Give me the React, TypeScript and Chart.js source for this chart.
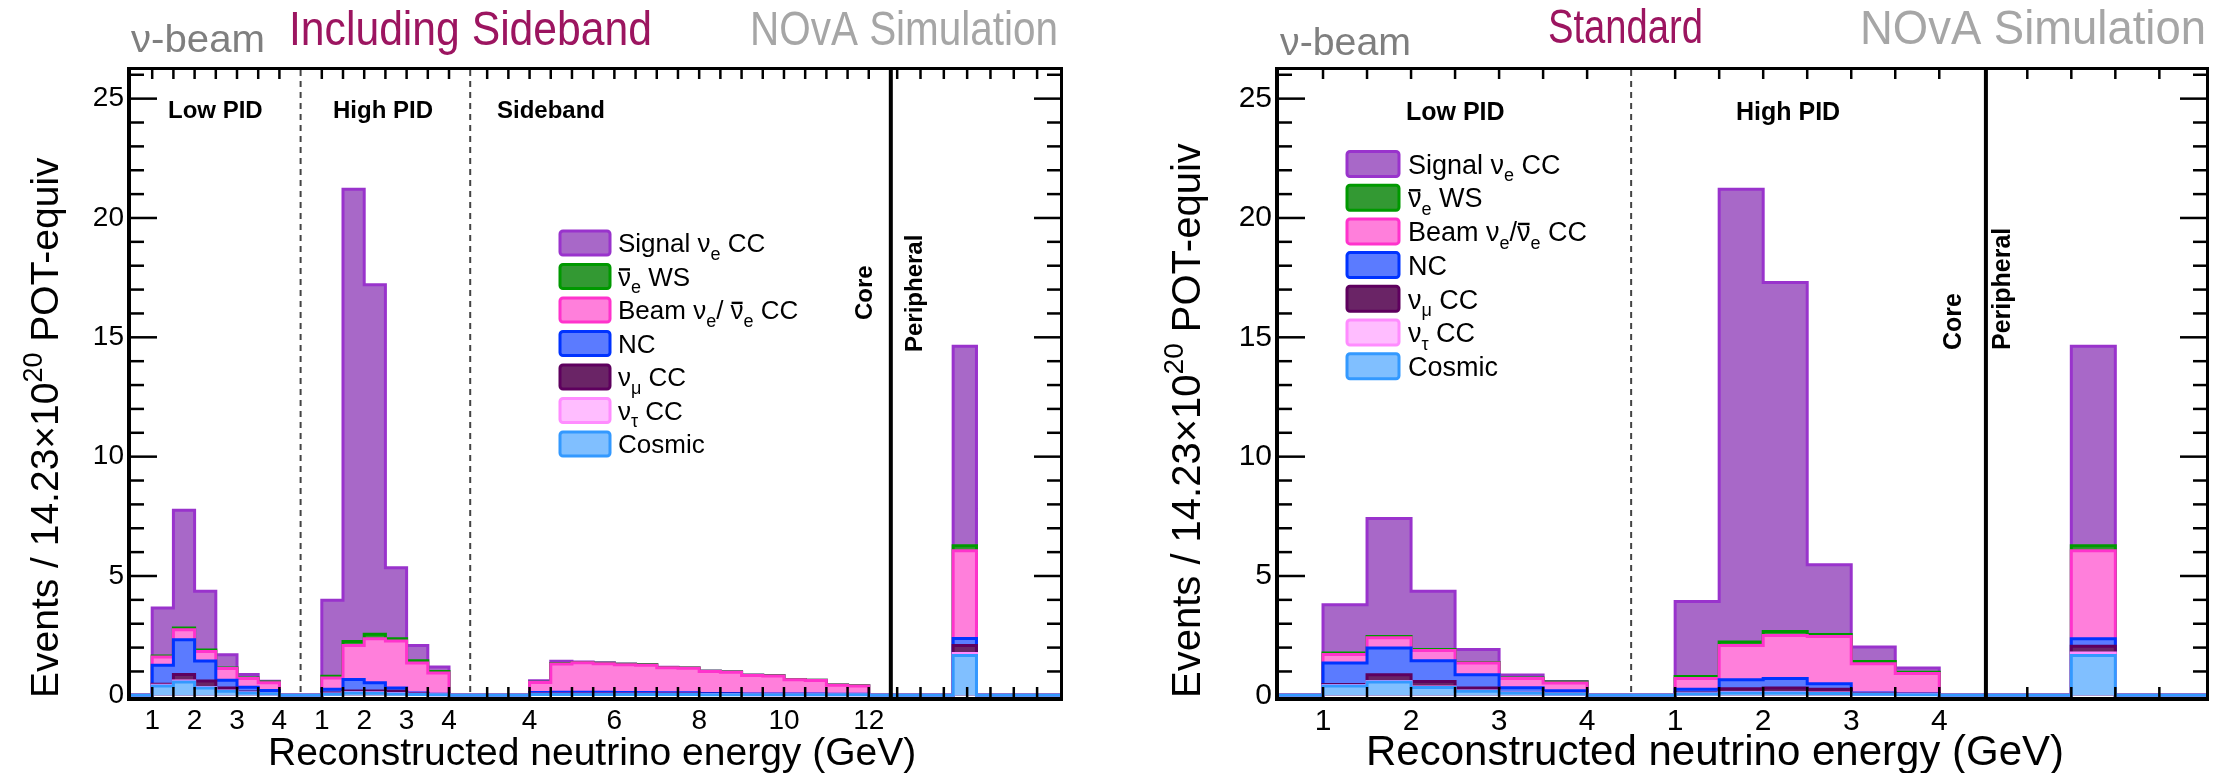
import React, { useEffect, useRef } from "react";
import { Chart, registerables } from "chart.js";

Chart.register(...registerables);

// ---------------- DATA ----------------
// Stack order (bottom -> top)
const stackNames = ["Cosmic", "ντ CC", "νμ CC", "NC", "Beam νe/ν̄e CC", "ν̄e WS", "Signal νe CC"];

const pidBinEdgesGeV = [1.0, 1.5, 2.0, 2.5, 3.0, 3.5, 4.0];
const sidebandBinEdgesGeV = [4.0, 4.5, 5.0, 5.5, 6.0, 6.5, 7.0, 7.5, 8.0, 8.5, 9.0, 9.5, 10.0, 10.5, 11.0, 11.5, 12.0];
const peripheralBinEdges = [0, 1];

const pidTickLabelsGeV = [1, 2, 3, 4];
const sidebandTickLabelsGeV = [4, 6, 8, 10, 12];
const yTickLabels = [0, 5, 10, 15, 20, 25];

// Left panel: "Including Sideband" (rows follow stackNames)
const leftLowPID = [
  [0.39, 0.56, 0.31, 0.17, 0.10, 0.07],
  [0.03, 0.04, 0.02, 0.01, 0.01, 0.00],
  [0.04, 0.27, 0.27, 0.13, 0.03, 0.01],
  [0.80, 1.46, 0.84, 0.32, 0.20, 0.12],
  [0.35, 0.42, 0.40, 0.49, 0.36, 0.33],
  [0.04, 0.07, 0.06, 0.03, 0.03, 0.03],
  [2.01, 4.93, 2.46, 0.55, 0.14, 0.03],
];
const leftHighPID = [
  [0.05, 0.10, 0.09, 0.06, 0.03, 0.02],
  [0.01, 0.02, 0.02, 0.02, 0.01, 0.00],
  [0.04, 0.06, 0.07, 0.09, 0.03, 0.01],
  [0.15, 0.48, 0.35, 0.14, 0.03, 0.01],
  [0.48, 1.43, 1.84, 1.97, 1.25, 0.90],
  [0.07, 0.17, 0.19, 0.09, 0.10, 0.06],
  [3.18, 18.94, 14.64, 2.98, 0.64, 0.19],
];
const leftSideband = [
  [0.03, 0.03, 0.03, 0.03, 0.03, 0.03, 0.03, 0.03, 0.02, 0.02, 0.02, 0.02, 0.02, 0.02, 0.02, 0.02],
  [0.01, 0.01, 0.01, 0.01, 0.01, 0.01, 0.01, 0.01, 0.01, 0.01, 0.00, 0.00, 0.00, 0.00, 0.00, 0.00],
  [0.02, 0.02, 0.02, 0.02, 0.02, 0.02, 0.02, 0.02, 0.01, 0.01, 0.01, 0.01, 0.01, 0.01, 0.01, 0.01],
  [0.06, 0.07, 0.07, 0.07, 0.06, 0.06, 0.05, 0.05, 0.04, 0.04, 0.03, 0.03, 0.03, 0.03, 0.02, 0.02],
  [0.42, 1.18, 1.23, 1.19, 1.16, 1.14, 1.05, 1.02, 0.92, 0.89, 0.77, 0.75, 0.59, 0.56, 0.37, 0.34],
  [0.01, 0.02, 0.02, 0.02, 0.02, 0.02, 0.01, 0.01, 0.01, 0.01, 0.01, 0.01, 0.01, 0.01, 0.01, 0.01],
  [0.06, 0.10, 0.02, 0.02, 0.01, 0.01, 0.01, 0.01, 0.01, 0.01, 0.01, 0.01, 0.00, 0.00, 0.00, 0.00],
];
const leftPeripheral = [[1.67], [0.08], [0.34], [0.29], [3.68], [0.21], [8.36]];

// Right panel: "Standard"
const rightLowPID = [
  [0.39, 0.56, 0.33, 0.17, 0.10, 0.06],
  [0.02, 0.02, 0.02, 0.01, 0.01, 0.00],
  [0.04, 0.28, 0.23, 0.13, 0.01, 0.01],
  [0.90, 1.12, 0.87, 0.55, 0.20, 0.12],
  [0.36, 0.43, 0.43, 0.49, 0.39, 0.33],
  [0.06, 0.06, 0.04, 0.03, 0.02, 0.04],
  [2.02, 4.94, 2.44, 0.54, 0.12, 0.02],
];
const rightHighPID = [
  [0.06, 0.10, 0.10, 0.08, 0.04, 0.02],
  [0.01, 0.02, 0.02, 0.02, 0.01, 0.01],
  [0.03, 0.16, 0.19, 0.15, 0.02, 0.01],
  [0.15, 0.37, 0.39, 0.24, 0.03, 0.02],
  [0.45, 1.44, 1.81, 1.98, 1.22, 0.85],
  [0.09, 0.14, 0.16, 0.08, 0.10, 0.06],
  [3.14, 18.97, 14.63, 2.92, 0.60, 0.17],
];
const rightPeripheral = [[1.67], [0.10], [0.29], [0.31], [3.69], [0.21], [8.36]];

// ---------------- STYLE ----------------
const FONT = "'Liberation Sans', Arial, Helvetica, sans-serif";
const fillColors = ["#80bfff", "#ffbdff", "#6a2466", "#5b7bff", "#ff7fdb", "#339933", "#a868c8"];
const lineColors = ["#3399ff", "#ff8cff", "#5e005e", "#0033ff", "#ff33cc", "#009900", "#9933cc"];

type Seg = { t: string; sub?: boolean; bar?: boolean };
const legendSignal: Seg[] = [{ t: "Signal ν" }, { t: "e", sub: true }, { t: " CC" }];
const legendWS: Seg[] = [{ t: "ν", bar: true }, { t: "e", sub: true }, { t: " WS" }];
const legendBeamLeft: Seg[] = [{ t: "Beam ν" }, { t: "e", sub: true }, { t: "/ " }, { t: "ν", bar: true }, { t: "e", sub: true }, { t: " CC" }];
const legendBeamRight: Seg[] = [{ t: "Beam ν" }, { t: "e", sub: true }, { t: "/" }, { t: "ν", bar: true }, { t: "e", sub: true }, { t: " CC" }];
const legendNC: Seg[] = [{ t: "NC" }];
const legendNumu: Seg[] = [{ t: "ν" }, { t: "μ", sub: true }, { t: " CC" }];
const legendNutau: Seg[] = [{ t: "ν" }, { t: "τ", sub: true }, { t: " CC" }];
const legendCosmic: Seg[] = [{ t: "Cosmic" }];

type Section = { from: number; to: number; edges: number[]; values: number[][]; offset: number; scale: number };

const range = (a: number, b: number, s: number) => {
  const out: number[] = [];
  for (let v = a; v <= b + 1e-9; v += s) out.push(Math.round(v * 1000) / 1000);
  return out;
};

const leftPanel = {
  canvasLeft: 0,
  width: 1110,
  padRight: 50,
  yAxisWidth: 131,
  axisMax: 21.91,
  tickFont: 28,
  sections: [
    { from: 0, to: 4, edges: pidBinEdgesGeV, values: leftLowPID, offset: -0.5, scale: 1 },
    { from: 4, to: 8, edges: pidBinEdgesGeV, values: leftHighPID, offset: 3.5, scale: 1 },
    { from: 8, to: 17.92, edges: sidebandBinEdgesGeV, values: leftSideband, offset: 5.4, scale: 1 },
    { from: 17.92, to: 21.91, edges: peripheralBinEdges, values: leftPeripheral, offset: 19.39, scale: 0.55 },
  ] as Section[],
  labels: [
    ...pidTickLabelsGeV.map((g) => ({ at: g - 0.5, text: String(g) })),
    ...pidTickLabelsGeV.map((g) => ({ at: g + 3.5, text: String(g) })),
    ...sidebandTickLabelsGeV.map((g) => ({ at: g + 5.4, text: String(g) })),
  ],
  tickMarks: [
    ...pidBinEdgesGeV.map((g) => g - 0.5),
    ...pidBinEdgesGeV.map((g) => g + 3.5),
    ...range(3.0, 12.0, 0.5).map((g) => g + 5.4),
    ...range(0, 6, 1).map((k) => 18.07 + 0.55 * k),
  ],
  separators: [
    { at: 4, dashed: true },
    { at: 8, dashed: true },
    { at: 17.92, dashed: false },
  ],
  titles: [
    { text: "ν-beam", x: 131, y: 52, size: 38, width: 134, color: "#7f7f7f", align: "left" },
    { text: "Including Sideband", x: 289, y: 45, size: 48, width: 363, color: "#9c1560", align: "left" },
    { text: "NOvA Simulation", x: 1058, y: 45, size: 48, width: 308, color: "#a6a6a6", align: "right" },
  ],
  sectionLabels: [
    { text: "Low PID", x: 168, y: 118 },
    { text: "High PID", x: 333, y: 118 },
    { text: "Sideband", x: 497, y: 118 },
  ],
  rotLabels: [
    { text: "Core", x: 872, y: 320 },
    { text: "Peripheral", x: 922, y: 352 },
  ],
  sectionFont: 24,
  legend: { boxX: 560, boxW: 50, boxH: 24, textX: 618, y0: 243, dy: 33.5, size: 26, beam: legendBeamLeft },
  yTitle: { x: 58, y: 698, size: 39 },
  xTitle: { x: 268, y: 765, size: 39 },
};

const rightPanel = {
  canvasLeft: 1110,
  width: 1103,
  padRight: 7,
  yAxisWidth: 169,
  axisMax: 10.53,
  tickFont: 30,
  sections: [
    { from: 0, to: 4, edges: pidBinEdgesGeV, values: rightLowPID, offset: -0.5, scale: 1 },
    { from: 4, to: 8.03, edges: pidBinEdgesGeV, values: rightHighPID, offset: 3.5, scale: 1 },
    { from: 8.03, to: 10.53, edges: peripheralBinEdges, values: rightPeripheral, offset: 9.0, scale: 0.5 },
  ] as Section[],
  labels: [
    ...pidTickLabelsGeV.map((g) => ({ at: g - 0.5, text: String(g) })),
    ...pidTickLabelsGeV.map((g) => ({ at: g + 3.5, text: String(g) })),
  ],
  tickMarks: [
    ...pidBinEdgesGeV.map((g) => g - 0.5),
    ...pidBinEdgesGeV.map((g) => g + 3.5),
    8.5, 9.0, 9.5, 10.0,
  ],
  separators: [
    { at: 4, dashed: true },
    { at: 8.03, dashed: false },
  ],
  titles: [
    { text: "ν-beam", x: 1280, y: 55, size: 39, width: 131, color: "#7f7f7f", align: "left" },
    { text: "Standard", x: 1548, y: 43, size: 49, width: 155, color: "#9c1560", align: "left" },
    { text: "NOvA Simulation", x: 2206, y: 44, size: 49, width: 346, color: "#a6a6a6", align: "right" },
  ],
  sectionLabels: [
    { text: "Low PID", x: 1406, y: 120 },
    { text: "High PID", x: 1736, y: 120 },
  ],
  rotLabels: [
    { text: "Core", x: 1961, y: 350 },
    { text: "Peripheral", x: 2010, y: 350 },
  ],
  sectionFont: 25,
  legend: { boxX: 1347, boxW: 52, boxH: 25, textX: 1408, y0: 164, dy: 33.7, size: 27, beam: legendBeamRight },
  yTitle: { x: 1200, y: 698, size: 40 },
  xTitle: { x: 1366, y: 765, size: 42 },
};

type PanelCfg = typeof leftPanel;

function buildDatasets(p: PanelCfg) {
  const bins: { lo: number; hi: number; vals: number[] }[] = [];
  for (const s of p.sections) {
    for (let i = 0; i < s.edges.length - 1; i++) {
      bins.push({
        lo: s.offset + s.edges[i] * s.scale,
        hi: s.offset + s.edges[i + 1] * s.scale,
        vals: s.values.map((row) => row[i]),
      });
    }
  }
  return stackNames.map((name, c) => {
    const pts: { x: number; y: number }[] = [];
    let cursor = 0;
    for (const b of bins) {
      if (b.lo > cursor + 1e-6) pts.push({ x: cursor, y: 0 });
      let cum = 0;
      for (let k = 0; k <= c; k++) cum += b.vals[k];
      pts.push({ x: b.lo, y: cum });
      cursor = b.hi;
    }
    pts.push({ x: cursor, y: 0 });
    if (cursor < p.axisMax) pts.push({ x: p.axisMax, y: 0 });
    return {
      label: name,
      data: pts,
      stepped: true,
      fill: "origin",
      backgroundColor: fillColors[c],
      borderColor: lineColors[c],
      borderWidth: 3,
      pointRadius: 0,
      tension: 0,
      borderJoinStyle: "miter",
    };
  });
}

function drawRich(ctx: CanvasRenderingContext2D, segs: Seg[], x: number, baseline: number, size: number) {
  let cx = x;
  ctx.textAlign = "left";
  ctx.textBaseline = "alphabetic";
  for (const s of segs) {
    if (s.sub) {
      ctx.font = `${Math.round(size * 0.68)}px ${FONT}`;
      ctx.fillText(s.t, cx, baseline + size * 0.28);
      cx += ctx.measureText(s.t).width;
    } else {
      ctx.font = `${size}px ${FONT}`;
      ctx.fillText(s.t, cx, baseline);
      const w = ctx.measureText(s.t).width;
      if (s.bar) ctx.fillRect(cx + 1, baseline - size * 0.68, w - 2, 2.4);
      cx += w;
    }
  }
}

function fitText(ctx: CanvasRenderingContext2D, text: string, x: number, y: number, size: number, width: number, align: string) {
  ctx.font = `${size}px ${FONT}`;
  const w = ctx.measureText(text).width;
  const sx = width / w;
  const left = align === "right" ? x - width : x;
  ctx.save();
  ctx.translate(left, y);
  ctx.scale(sx, 1);
  ctx.textAlign = "left";
  ctx.textBaseline = "alphabetic";
  ctx.fillText(text, 0, 0);
  ctx.restore();
}

function decorPlugin(p: PanelCfg) {
  return {
    id: "decor",
    afterDraw(chart: any) {
      const ctx: CanvasRenderingContext2D = chart.ctx;
      const ca = chart.chartArea;
      const xs = chart.scales.x;
      const ys = chart.scales.y;
      const off = p.canvasLeft;
      const line = (x1: number, y1: number, x2: number, y2: number) => {
        ctx.beginPath();
        ctx.moveTo(x1, y1);
        ctx.lineTo(x2, y2);
        ctx.stroke();
      };
      ctx.save();
      // separators
      for (const s of p.separators) {
        const x = xs.getPixelForValue(s.at);
        ctx.lineWidth = s.dashed ? 2 : 4;
        ctx.strokeStyle = s.dashed ? "#444" : "#000";
        ctx.setLineDash(s.dashed ? [6, 5] : []);
        line(x, ca.top, x, ca.bottom);
      }
      ctx.setLineDash([]);
      ctx.strokeStyle = "#000";
      ctx.lineWidth = 2.5;
      for (let v = 1; v <= 26; v++) {
        const y = ys.getPixelForValue(v);
        const len = v % 5 === 0 ? 26 : 13;
        line(ca.left, y, ca.left + len, y);
        line(ca.right, y, ca.right - len, y);
      }
      for (const t of p.tickMarks) {
        const x = xs.getPixelForValue(t);
        line(x, ca.bottom, x, ca.bottom - 10);
        line(x, ca.top, x, ca.top + 9);
      }
      // frame
      ctx.lineWidth = 4;
      line(ca.left - 2, ca.top - 3, ca.left - 2, ca.bottom + 4);
      line(ca.left - 4, ca.bottom + 2, ca.right + 3, ca.bottom + 2);
      ctx.lineWidth = 3;
      line(ca.left - 4, ca.top - 1.5, ca.right + 3, ca.top - 1.5);
      line(ca.right + 1.5, ca.top - 3, ca.right + 1.5, ca.bottom + 4);

      // titles
      for (const t of p.titles) {
        ctx.fillStyle = t.color;
        fitText(ctx, t.text, t.x - off, t.y, t.size, t.width, t.align);
      }
      ctx.fillStyle = "#000";
      ctx.textAlign = "left";
      ctx.textBaseline = "alphabetic";
      ctx.font = `bold ${p.sectionFont}px ${FONT}`;
      for (const s of p.sectionLabels) ctx.fillText(s.text, s.x - off, s.y);
      for (const r of p.rotLabels) {
        ctx.save();
        ctx.translate(r.x - off, r.y);
        ctx.rotate(-Math.PI / 2);
        ctx.font = `bold ${p.sectionFont}px ${FONT}`;
        ctx.fillText(r.text, 0, 0);
        ctx.restore();
      }

      // legend
      const L = p.legend;
      const entries = [
        { c: 6, segs: legendSignal },
        { c: 5, segs: legendWS },
        { c: 4, segs: L.beam },
        { c: 3, segs: legendNC },
        { c: 2, segs: legendNumu },
        { c: 1, segs: legendNutau },
        { c: 0, segs: legendCosmic },
      ];
      entries.forEach((e, i) => {
        const cy = L.y0 + i * L.dy;
        ctx.beginPath();
        (ctx as any).roundRect(L.boxX - off, cy - L.boxH / 2, L.boxW, L.boxH, 3);
        ctx.fillStyle = fillColors[e.c];
        ctx.fill();
        ctx.lineWidth = 3;
        ctx.strokeStyle = lineColors[e.c];
        ctx.stroke();
        ctx.fillStyle = "#000";
        drawRich(ctx, e.segs, L.textX - off, cy + L.size * 0.36, L.size);
      });

      // axis titles
      ctx.fillStyle = "#000";
      ctx.textAlign = "left";
      ctx.font = `${p.xTitle.size}px ${FONT}`;
      ctx.fillText("Reconstructed neutrino energy (GeV)", p.xTitle.x - off, p.xTitle.y);

      ctx.save();
      ctx.translate(p.yTitle.x - off, p.yTitle.y);
      ctx.rotate(-Math.PI / 2);
      const ys0 = p.yTitle.size;
      ctx.font = `${ys0}px ${FONT}`;
      const part1 = "Events / 14.23×10";
      ctx.fillText(part1, 0, 0);
      let cx = ctx.measureText(part1).width;
      ctx.font = `${Math.round(ys0 * 0.7)}px ${FONT}`;
      ctx.fillText("20", cx, -ys0 * 0.42);
      cx += ctx.measureText("20").width;
      ctx.font = `${ys0}px ${FONT}`;
      ctx.fillText(" POT-equiv", cx, 0);
      ctx.restore();

      ctx.restore();
    },
  };
}

function buildConfig(p: PanelCfg): any {
  return {
    type: "line",
    data: { datasets: buildDatasets(p) },
    options: {
      animation: false,
      responsive: false,
      maintainAspectRatio: false,
      events: [],
      layout: { autoPadding: false, padding: { left: 0, top: 70, right: p.padRight, bottom: 0 } },
      plugins: { legend: { display: false }, tooltip: { enabled: false }, title: { display: false } },
      scales: {
        x: {
          type: "linear",
          min: 0,
          max: p.axisMax,
          grid: { display: false, drawTicks: false },
          border: { display: false },
          afterBuildTicks: (s: any) => {
            s.ticks = p.labels.map((l) => ({ value: l.at }));
          },
          afterFit: (s: any) => {
            s.height = 76;
          },
          ticks: {
            autoSkip: false,
            maxRotation: 0,
            minRotation: 0,
            padding: 7,
            color: "#000",
            font: { family: FONT, size: p.tickFont },
            callback: (_v: any, i: number) => p.labels[i]?.text ?? "",
          },
        },
        y: {
          type: "linear",
          min: -0.07,
          max: 26.2,
          grid: { display: false, drawTicks: false },
          border: { display: false },
          afterBuildTicks: (s: any) => {
            s.ticks = yTickLabels.map((v) => ({ value: v }));
          },
          afterFit: (s: any) => {
            s.width = p.yAxisWidth;
          },
          ticks: {
            padding: 7,
            color: "#000",
            font: { family: FONT, size: p.tickFont },
            callback: (v: any) => String(v),
          },
        },
      },
    },
    plugins: [decorPlugin(p)],
  };
}

function Panel({ cfg }: { cfg: PanelCfg }) {
  const ref = useRef<HTMLCanvasElement>(null);
  useEffect(() => {
    const chart = new Chart(ref.current as HTMLCanvasElement, buildConfig(cfg));
    return () => chart.destroy();
  }, [cfg]);
  return (
    <canvas
      ref={ref}
      width={cfg.width}
      height={773}
      style={{ position: "absolute", left: cfg.canvasLeft, top: 0, width: cfg.width, height: 773 }}
    />
  );
}

export default function App() {
  return (
    <div style={{ position: "absolute", left: 0, top: 0, width: 2213, height: 773, background: "#fff", overflow: "hidden" }}>
      <Panel cfg={leftPanel} />
      <Panel cfg={rightPanel as any} />
    </div>
  );
}
